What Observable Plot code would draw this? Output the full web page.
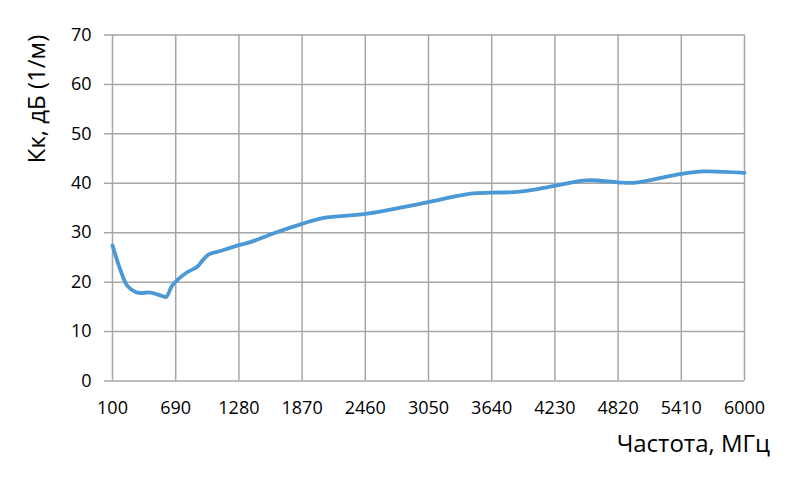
<!DOCTYPE html>
<html>
<head>
<meta charset="utf-8">
<script src="https://cdn.jsdelivr.net/npm/d3@7"></script>
<script src="https://cdn.jsdelivr.net/npm/@observablehq/plot@0.6"></script>
<style>
  html, body { margin: 0; padding: 0; background: #fff; }
  #chart svg { display: block; }
</style>
</head>
<body>
<div id="chart"></div>
<script>
// Frequency (MHz)
const freq = [100, 175, 237, 315, 361, 455, 564, 600, 657, 719, 797, 891, 937, 999, 1108, 1280, 1388, 1606, 1870, 2072, 2460, 3050, 3442, 3640, 3904, 4230, 4525, 4820, 4966, 5410, 5620, 6000];
// Kk, dB (1/m)
const kk = [27.4, 22.4, 19.3, 18.0, 17.8, 17.9, 17.2, 17.0, 19.3, 20.7, 22.0, 23.1, 24.3, 25.6, 26.3, 27.5, 28.1, 29.9, 31.8, 33.0, 33.8, 36.2, 37.9, 38.1, 38.3, 39.5, 40.6, 40.2, 40.1, 41.9, 42.4, 42.1];
const xTicks = [100, 690, 1280, 1870, 2460, 3050, 3640, 4230, 4820, 5410, 6000];
const yTicks = [0, 10, 20, 30, 40, 50, 60, 70];
const xTitle = "Частота, МГц";
const yTitle = "Кк, дБ (1/м)";

const data = freq.map((f, i) => ({f, v: kk[i]}));

const chart = Plot.plot({
  width: 800,
  height: 485,
  marginLeft: 112,
  marginRight: 56,
  marginTop: 34.5,
  marginBottom: 104.5,
  style: {fontFamily: "'Open Sans', sans-serif", background: "#fff", color: "#000"},
  x: {domain: [100, 6000], ticks: xTicks},
  y: {domain: [0, 70], ticks: yTicks},
  marks: [
    Plot.gridX(xTicks, {stroke: "#A6A6A6", strokeOpacity: 1, strokeWidth: 1.5}),
    Plot.gridY(yTicks, {stroke: "#A6A6A6", strokeOpacity: 1, strokeWidth: 1.5}),
    Plot.axisY(yTicks, {tickSize: 8, tickPadding: 13, stroke: "#A6A6A6", strokeWidth: 1.5, fontSize: 18, fill: "#000", label: null}),
    Plot.axisX(xTicks, {tickSize: 0, tickPadding: 20, fontSize: 18, fill: "#000", label: null, tickFormat: d => String(d)}),
    Plot.line(data, {x: "f", y: "v", stroke: "#4A98D5", strokeWidth: 3.8, curve: "catmull-rom"})
  ]
});

const svg = d3.select(chart);
svg.append("text")
  .attr("x", 770).attr("y", 452)
  .attr("text-anchor", "end")
  .attr("font-family", "'Open Sans', sans-serif")
  .attr("font-size", 24)
  .attr("fill", "#000")
  .text(xTitle);
svg.append("text")
  .attr("transform", "translate(45,99) rotate(-90)")
  .attr("text-anchor", "middle")
  .attr("font-family", "'Open Sans', sans-serif")
  .attr("font-size", 24)
  .attr("fill", "#000")
  .text(yTitle);

document.getElementById("chart").appendChild(chart);
</script>
</body>
</html>
